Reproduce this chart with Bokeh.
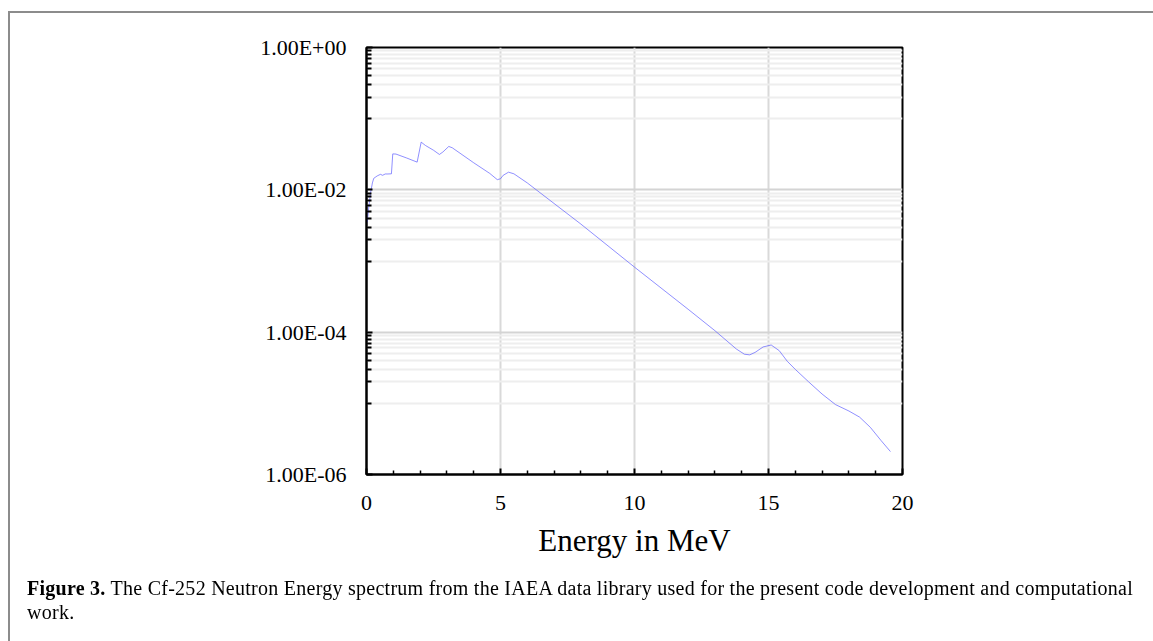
from bokeh.plotting import figure
from bokeh.models import FixedTicker, CustomJSTickFormatter, Range1d, Div
from bokeh.layouts import column
from bokeh.embed import file_html
from bokeh.resources import INLINE

# ---- data (Energy in MeV, spectrum value) ----
energy = [0.03, 0.08, 0.15, 0.22, 0.27, 0.4, 0.52, 0.6, 0.7, 0.8, 0.93, 0.98, 1.1,
          1.5, 1.89, 2.04, 2.2, 2.5, 2.72, 2.85, 3.07, 3.2, 4.0, 4.6, 4.88, 5.0, 5.1,
          5.3, 5.5, 6.0, 8.0, 10.0, 12.0, 13.0, 13.8, 14.1, 14.3, 14.5, 14.8, 15.1,
          15.4, 15.7, 16.0, 16.5, 17.0, 17.5, 18.0, 18.4, 18.8, 19.2, 19.55]
flux = [3.5e-3, 5.5e-3, 9.0e-3, 1.25e-2, 1.45e-2, 1.57e-2, 1.65e-2, 1.60e-2, 1.67e-2,
        1.67e-2, 1.68e-2, 3.20e-2, 3.18e-2, 2.80e-2, 2.45e-2, 4.68e-2, 4.20e-2,
        3.60e-2, 3.14e-2, 3.40e-2, 4.07e-2, 3.90e-2, 2.40e-2, 1.70e-2, 1.39e-2,
        1.43e-2, 1.60e-2, 1.77e-2, 1.68e-2, 1.25e-2, 3.3e-3, 8.2e-4, 2.1e-4, 1.05e-4,
        5.8e-5, 4.9e-5, 4.8e-5, 5.2e-5, 6.2e-5, 6.6e-5, 5.5e-5, 3.9e-5, 3.0e-5,
        2.0e-5, 1.35e-5, 9.6e-6, 7.8e-6, 6.4e-6, 4.6e-6, 3.0e-6, 2.1e-6]

x_ticks = [0, 5, 10, 15, 20]
y_ticks = [1e-6, 1e-4, 1e-2, 1.0]
x_label = "Energy in MeV"
caption_bold = "Figure 3."
caption_line1 = ("The Cf-252 Neutron Energy spectrum from the IAEA data library used for "
                 "the present code development and computational")
caption_line2 = "work."

W, H = 1153, 641
PH = 590
FL, FR, FT, FB = 366, 902, 47, 474

p = figure(width=W, height=PH, output_backend="svg", toolbar_location=None,
           y_axis_type="log", x_range=Range1d(0, 20), y_range=Range1d(1e-6, 1.0),
           min_border_left=FL, min_border_right=W - FR,
           min_border_top=FT, min_border_bottom=PH - FB)
p.background_fill_color = "white"
p.border_fill_color = "white"
p.outline_line_color = "black"
p.outline_line_width = 2

serif = "Liberation Serif"

# x axis
x_minor = [v for v in range(0, 21) if v not in x_ticks]
p.xaxis.ticker = FixedTicker(ticks=x_ticks, minor_ticks=x_minor)
p.xaxis.axis_label = x_label
p.xaxis.axis_label_text_font = serif
p.xaxis.axis_label_text_font_style = "normal"
p.xaxis.axis_label_text_font_size = "31px"
p.xaxis.axis_label_text_color = "black"
p.xaxis.axis_label_standoff = 10
p.xaxis.major_label_text_font = serif
p.xaxis.major_label_text_font_size = "22px"
p.xaxis.major_label_text_color = "black"
p.xaxis.major_label_standoff = 21
p.xaxis.axis_line_width = 2
p.xaxis.axis_line_color = "black"
p.xaxis.major_tick_in = 6
p.xaxis.major_tick_out = 0
p.xaxis.minor_tick_in = 4
p.xaxis.minor_tick_out = 0
p.xaxis.major_tick_line_width = 2
p.xaxis.minor_tick_line_width = 1.5

# y axis (Excel-style log axis with base 100: minor ticks in the decade below each major)
y_minor = [k * 10.0 ** e for e in (-1, -3, -5) for k in range(1, 10)]
p.yaxis.ticker = FixedTicker(ticks=y_ticks, minor_ticks=y_minor)
p.yaxis.formatter = CustomJSTickFormatter(code="""
    const e = Math.round(Math.log10(tick));
    const s = e < 0 ? '-' : '+';
    const a = Math.abs(e);
    return '1.00E' + s + (a < 10 ? '0' : '') + a;
""")
p.yaxis.major_label_text_font = serif
p.yaxis.major_label_text_font_size = "22px"
p.yaxis.major_label_text_color = "black"
p.yaxis.major_label_standoff = 20
p.yaxis.axis_line_width = 2
p.yaxis.axis_line_color = "black"
p.yaxis.major_tick_in = 6
p.yaxis.major_tick_out = 0
p.yaxis.minor_tick_in = 5
p.yaxis.minor_tick_out = 0
p.yaxis.major_tick_line_width = 2
p.yaxis.minor_tick_line_width = 2

# grids
p.xgrid.grid_line_color = "#d9d9d9"
p.xgrid.grid_line_width = 2
p.ygrid.grid_line_color = "#d4d4d4"
p.ygrid.grid_line_width = 2
p.ygrid.minor_grid_line_color = "#eeeeee"
p.ygrid.minor_grid_line_width = 2

p.line(energy, flux, line_color="#5555ff", line_width=1, line_alpha=0.65)

cap_style = ("position:fixed;left:27px;font-family:'Liberation Serif',serif;font-size:20px;"
             "letter-spacing:0.26px;white-space:nowrap;color:#000;line-height:1;")
html = (
    '<div style="position:fixed;left:8px;top:11px;width:1300px;height:800px;'
    'border-left:2px solid #8c8c8c;border-top:2px solid #8c8c8c;pointer-events:none;"></div>'
    f'<div style="{cap_style}top:578px;"><b>{caption_bold}</b> {caption_line1}</div>'
    f'<div style="{cap_style}top:602px;">{caption_line2}</div>'
)
cap = Div(text=html, width=W, height=H - PH, margin=0)

layout = column(p, cap, spacing=0)
open("out.html", "w").write(file_html(layout, INLINE))
